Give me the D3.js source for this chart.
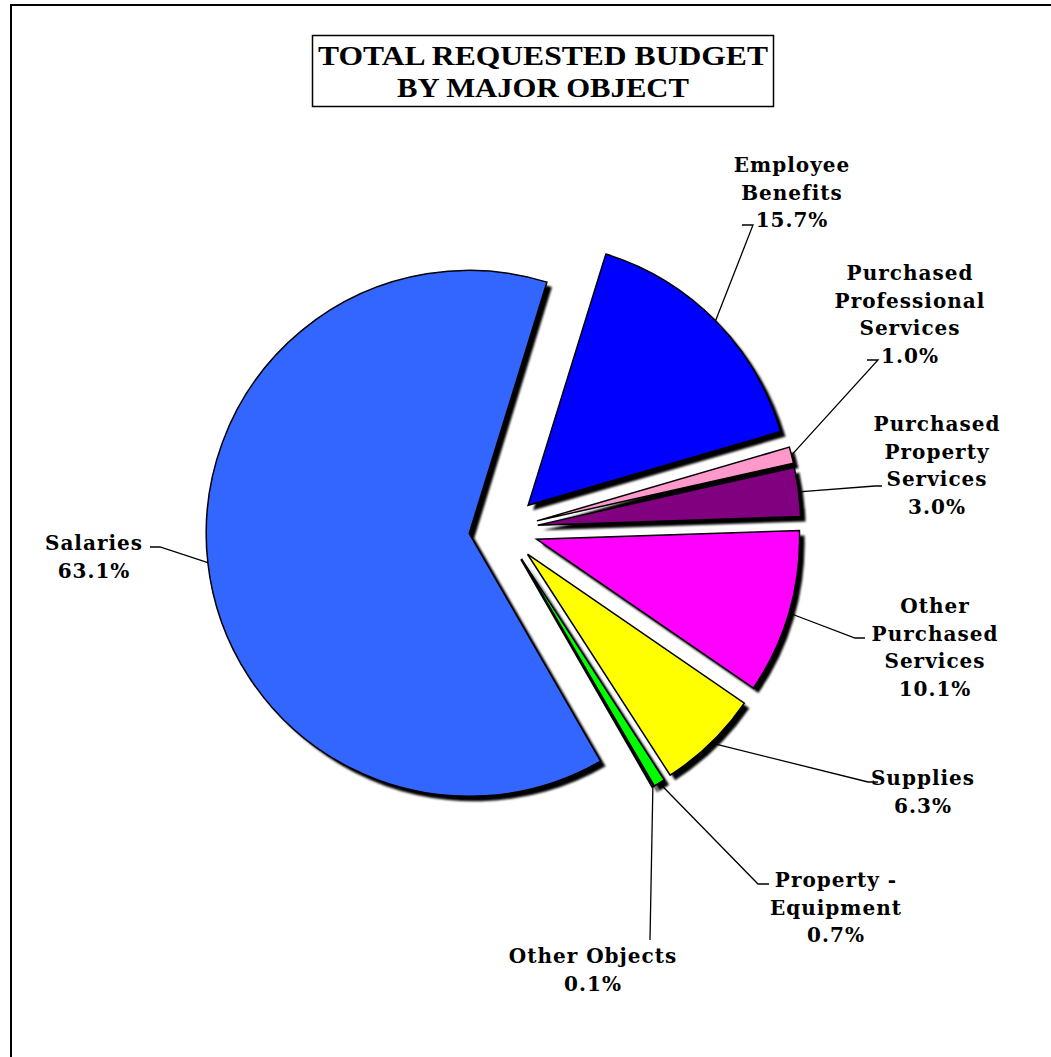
<!DOCTYPE html>
<html><head><meta charset="utf-8">
<script src="https://cdn.jsdelivr.net/npm/d3@7"></script>
<style>
html,body{margin:0;padding:0;background:#fff;}
svg{display:block;}
</style></head>
<body>
<script>
// ---- data ----
const categories = ["Employee Benefits","Purchased Professional Services","Purchased Property Services","Other Purchased Services","Supplies","Property - Equipment","Other Objects","Salaries"];
const values = [15.7, 1.0, 3.0, 10.1, 6.3, 0.7, 0.1, 63.1];
const valueLabels = ["15.7%","1.0%","3.0%","10.1%","6.3%","0.7%","0.1%","63.1%"];
const labelLines = [
  ["Employee","Benefits"],
  ["Purchased","Professional","Services"],
  ["Purchased","Property","Services"],
  ["Other","Purchased","Services"],
  ["Supplies"],
  ["Property -","Equipment"],
  ["Other Objects"],
  ["Salaries"]
];
const colors = ["#0000FF","#FF99CC","#800080","#FF00FF","#FFFF00","#00FF00","#00FFFF","#3366FF"];
const titleLines = ["TOTAL REQUESTED BUDGET","BY MAJOR OBJECT"];

// ---- layout ----
const W = 1051, H = 1057;
const cx = 503.5, cy = 529.5, R = 263, explode = 34.5;
const startDeg = 17.2;
const titleWidths = [450, 292];
const labelLayout = [
  {x:792, y:172, tick:[742,753,225]},
  {x:910, y:280, tick:[867,878,360]},
  {x:937, y:431, tick:[882,875,486]},
  {x:935, y:613, tick:[865,855,638]},
  {x:923, y:785, tick:[878,868,782]},
  {x:836, y:887, tick:[769,758,884]},
  {x:593, y:963, tick:[650,650,940]},
  {x:94,  y:550, tick:[150,160,547]}
];
const lineH = 27.6;

const svg = d3.select("body").append("svg").attr("width", W).attr("height", H);
const defs = svg.append("defs");
const f = defs.append("filter").attr("id","blur").attr("x","-10%").attr("y","-10%").attr("width","130%").attr("height","130%");
f.append("feGaussianBlur").attr("stdDeviation",1.1);

// outer frame
svg.append("rect").attr("x",11).attr("y",5).attr("width",W+20).attr("height",H+20)
  .attr("fill","#fff").attr("stroke","#000").attr("stroke-width",2);

// title
svg.append("rect").attr("x",312.5).attr("y",35.5).attr("width",461).attr("height",71)
  .attr("fill","#fff").attr("stroke","#000").attr("stroke-width",1.5);
svg.append("g").selectAll("text").data(titleLines).join("text")
  .attr("x",543).attr("y",(d,i)=>65+i*32)
  .attr("text-anchor","middle")
  .attr("font-family","'Liberation Serif','Times New Roman',serif")
  .attr("font-weight","bold").attr("font-size",28)
  .attr("textLength",(d,i)=>titleWidths[i]).attr("lengthAdjust","spacingAndGlyphs")
  .text(d=>d);

// pie
const pie = d3.pie().sort(null).value(d=>d)
  .startAngle(startDeg*Math.PI/180).endAngle(startDeg*Math.PI/180 + 2*Math.PI);
const arcs = pie(values);
const arc = d3.arc().innerRadius(0).outerRadius(R);
function offset(a){
  const m = (a.startAngle + a.endAngle)/2;
  return [cx + explode*Math.sin(m), cy - explode*Math.cos(m)];
}
svg.append("g").selectAll("path").data(arcs).join("path")
  .attr("transform", d=>{const o=offset(d); return `translate(${o[0]+5},${o[1]+5})`;})
  .attr("d", arc).attr("fill","#000").attr("filter","url(#blur)");
svg.append("g").selectAll("path").data(arcs).join("path")
  .attr("transform", d=>{const o=offset(d); return `translate(${o[0]},${o[1]})`;})
  .attr("d", arc).attr("fill",(d,i)=>colors[i])
  .attr("stroke","#000").attr("stroke-width",1.5).attr("stroke-linejoin","miter");

// leader lines
const leaders = svg.append("g").attr("fill","none").attr("stroke","#000").attr("stroke-width",1.3);
arcs.forEach((a,i)=>{
  const o = offset(a), m=(a.startAngle+a.endAngle)/2;
  const p = [o[0]+R*Math.sin(m), o[1]-R*Math.cos(m)];
  const t = labelLayout[i].tick;
  leaders.append("path").attr("d", d3.line()([p,[t[1],t[2]],[t[0],t[2]]]));
});

// labels
const lg = svg.append("g")
  .attr("font-family","'DejaVu Serif',serif").attr("font-weight","bold")
  .attr("font-size",20).attr("letter-spacing",1).attr("text-anchor","middle").attr("fill","#000");
labelLines.forEach((lines,i)=>{
  const L = labelLayout[i];
  const all = lines.concat([valueLabels[i]]);
  all.forEach((s,j)=>{
    lg.append("text").attr("x",L.x).attr("y",L.y + j*lineH).text(s);
  });
});
</script>
</body></html>
